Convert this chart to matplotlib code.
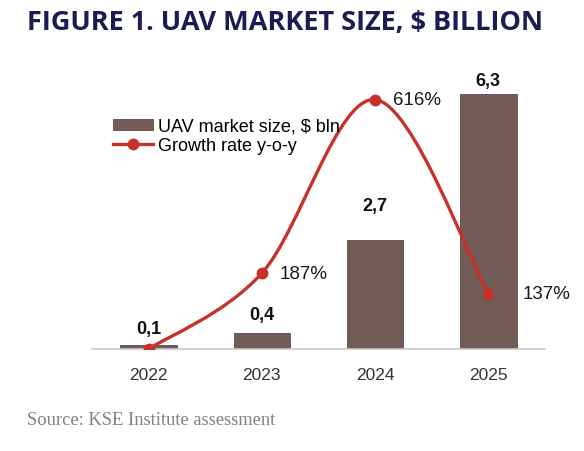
import matplotlib
matplotlib.use("Agg")
import matplotlib.pyplot as plt
from matplotlib.path import Path
from matplotlib.patches import PathPatch, Patch
from matplotlib.lines import Line2D

years = ["2022", "2023", "2024", "2025"]
market_size = [0.1, 0.4, 2.7, 6.3]
growth_pct = [0, 187, 616, 137]
size_labels = ["0,1", "0,4", "2,7", "6,3"]
growth_labels = [None, "187%", "616%", "137%"]

BAR = "#735b58"
LINE = "#c8312a"
NAVY = "#1c1c52"


def smooth_path(xs, ys):
    # Excel-style smoothed line: cubic bezier through every point
    pts = list(zip(xs, ys))
    verts = [pts[0]]
    codes = [Path.MOVETO]
    for i in range(len(pts) - 1):
        p0 = pts[i - 1] if i > 0 else pts[i]
        p1 = pts[i]
        p2 = pts[i + 1]
        p3 = pts[i + 2] if i + 2 < len(pts) else pts[i + 1]
        c1 = (p1[0] + (p2[0] - p0[0]) / 6, p1[1] + (p2[1] - p0[1]) / 6)
        c2 = (p2[0] - (p3[0] - p1[0]) / 6, p2[1] - (p3[1] - p1[1]) / 6)
        verts += [c1, c2, p2]
        codes += [Path.CURVE4] * 3
    return Path(verts, codes)


fig = plt.figure(figsize=(5.84, 4.52), dpi=100)
ax = fig.add_axes([92 / 584, 102 / 452, 452.8 / 584, 283.5 / 452])
x = list(range(len(years)))

ax.bar(x, market_size, width=0.5, color=BAR, edgecolor="#5e4946", linewidth=0.6, zorder=2)
ax.set_xlim(-0.5, 3.5)
ax.set_ylim(0, 7)
ax.set_xticks(x)
ax.set_xticklabels(years, fontsize=12.5, color="#333333", family="Liberation Sans")
ax.tick_params(axis="x", length=0, pad=13)
ax.set_yticks([])
for s in ["top", "right", "left"]:
    ax.spines[s].set_visible(False)
ax.spines["bottom"].set_color("#c8c8c8")
ax.spines["bottom"].set_linewidth(1.2)

label_gap = [16, 18, 34, 13]  # px above bar top
for xi, v, lab, g in zip(x, market_size, size_labels, label_gap):
    ax.annotate(lab, (xi, v), xytext=(0, g * 0.72), textcoords="offset points",
                ha="center", va="center", fontsize=13, fontweight="bold",
                family="Liberation Sans", color="#111111")

ax2 = ax.twinx()
ax2.set_ylim(0, 700)
ax2.set_xlim(-0.5, 3.5)
ax2.axis("off")
ax2.add_patch(PathPatch(smooth_path(x, growth_pct), fill=False, edgecolor=LINE,
                        linewidth=2.4, capstyle="round", zorder=3))
ax2.plot(x, growth_pct, "o", color=LINE, markersize=7.5, zorder=4)

label_dx = [0, 18, 18, 34]
for xi, v, lab, dx in zip(x, growth_pct, growth_labels, label_dx):
    if lab:
        ax2.annotate(lab, (xi, v), xytext=(dx * 0.72, 0), textcoords="offset points",
                     ha="left", va="center", fontsize=13.5, family="Liberation Sans",
                     color="#1a1a1a")

handles = [
    Patch(facecolor=BAR, edgecolor="#5e4946", linewidth=0.6),
    Line2D([0], [0], color=LINE, linewidth=2.4, marker="o", markersize=7.5),
]
fig.legend(handles, ["UAV market size, $ bln", "Growth rate y-o-y"],
           loc="upper left", bbox_to_anchor=(113 / 584, 1 - 118.5 / 452),
           frameon=False, prop={"family": "Liberation Sans", "size": 13},
           handlelength=2.2, handleheight=0.55, handletextpad=0.28, labelspacing=0.16,
           borderaxespad=0, borderpad=0)

fig.text(27 / 584, 1 - 23 / 452, "FIGURE 1. UAV MARKET SIZE, $ BILLION",
         fontsize=19.5, fontweight="bold", family="Open Sans", color=NAVY,
         ha="left", va="center")
fig.text(27 / 584, 1 - 421 / 452, "Source: KSE Institute assessment",
         fontsize=13.3, family="Liberation Serif", color="#808080",
         ha="left", va="center")

fig.savefig("out.png", dpi=100)
